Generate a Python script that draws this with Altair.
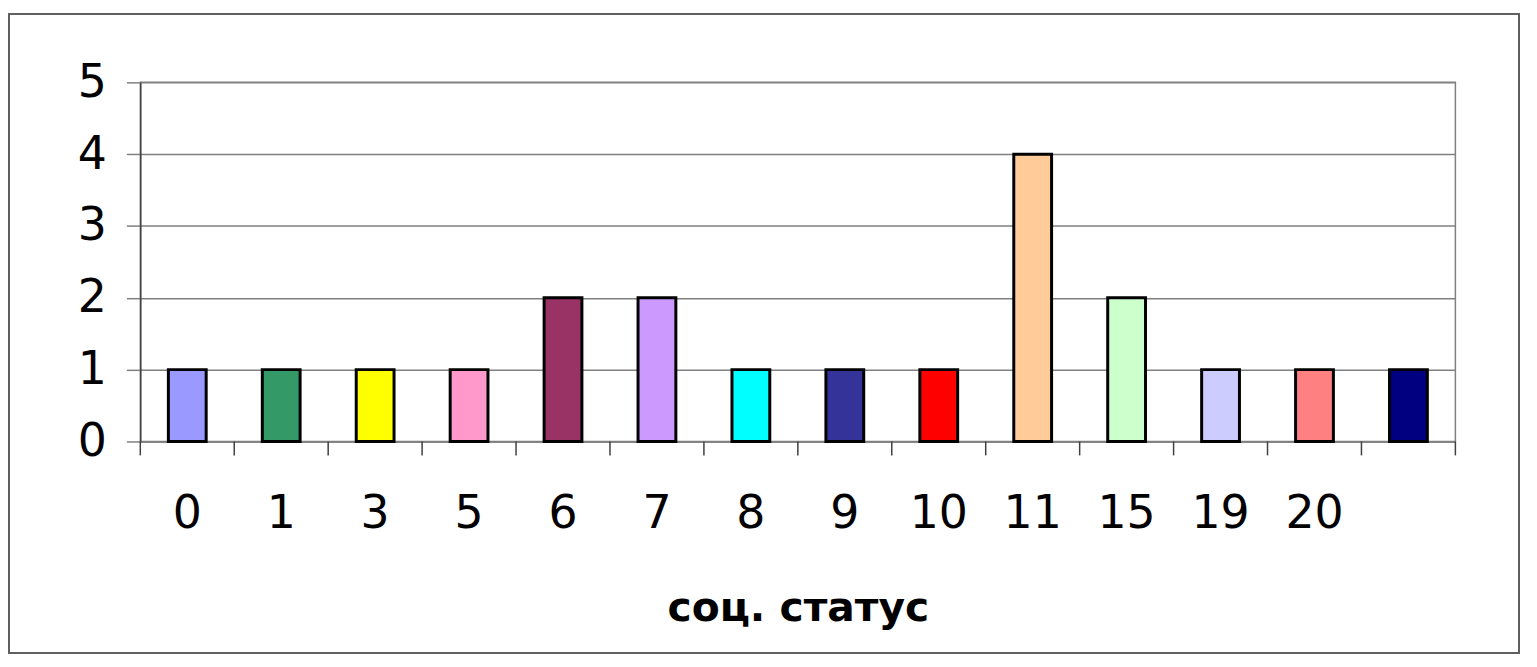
import altair as alt
import pandas as pd

categories = ["0", "1", "3", "5", "6", "7", "8", "9", "10", "11", "15", "19", "20", "n/a"]
counts = [1, 1, 1, 1, 2, 2, 1, 1, 1, 4, 2, 1, 1, 1]
colors = ["#9999FF", "#339966", "#FFFF00", "#FF99CC", "#993366", "#CC99FF", "#00FFFF",
          "#333399", "#FF0000", "#FFCC99", "#CCFFCC", "#CCCCFF", "#FF8080", "#000080"]
y_ticks = [0, 1, 2, 3, 4, 5]
x_title = "соц. статус"

df = pd.DataFrame({"cat": categories, "count": counts})

W, H = 1322, 361
FONT = "DejaVu Sans"

xscale = alt.Scale(domain=categories, paddingInner=0, paddingOuter=0)

frame = alt.Chart(df).mark_rect(fill="transparent", stroke="#606060", strokeWidth=1.5).encode(
    x=alt.value(-132), x2=alt.value(1386), y=alt.value(-69), y2=alt.value(574)
)

bars = alt.Chart(df).mark_bar(size=38, stroke="black", strokeWidth=3).encode(
    x=alt.X("cat:N", sort=categories, scale=xscale,
            axis=alt.Axis(title=x_title, ticks=False, domainColor="#808080", domainWidth=1.5,
                          labelFontSize=46, labelFont=FONT, labelColor="black", labelAngle=0,
                          labelPadding=51,
                          labelExpr="datum.value == 'n/a' ? '' : datum.value",
                          titleFont=FONT, titleFontSize=41, titleFontWeight="bold",
                          titleColor="black", titlePadding=52)),
    y=alt.Y("count:Q", scale=alt.Scale(domain=[0, 5], nice=False),
            axis=alt.Axis(title=None, values=y_ticks, grid=True, gridColor="#808080", gridWidth=1.5,
                          domainColor="#404040", domainWidth=1.5, tickColor="#808080", tickWidth=1.5,
                          tickSize=14, labelFontSize=46, labelFont=FONT, labelColor="black",
                          labelPadding=20)),
    color=alt.Color("cat:N", scale=alt.Scale(domain=categories, range=colors), legend=None),
)

ticks = alt.Chart(df).mark_rule(color="#404040", strokeWidth=1.5).encode(
    x=alt.X("cat:N", sort=categories, scale=xscale, bandPosition=0),
    y=alt.value(H), y2=alt.value(H + 14),
)

end_tick = alt.Chart(df.head(1)).mark_rule(color="#404040", strokeWidth=1.5).encode(
    x=alt.value(W), y=alt.value(H), y2=alt.value(H + 14)
)

chart = alt.layer(frame, bars, ticks, end_tick).properties(
    width=W, height=H,
    autosize=alt.AutoSizeParams(type="none"),
    padding={"left": 133, "top": 73, "right": 74, "bottom": 225},
    background="white",
).configure_view(stroke="#808080", strokeWidth=1.5)

chart.save("out.html", embed_options={"renderer": "svg", "actions": False})
